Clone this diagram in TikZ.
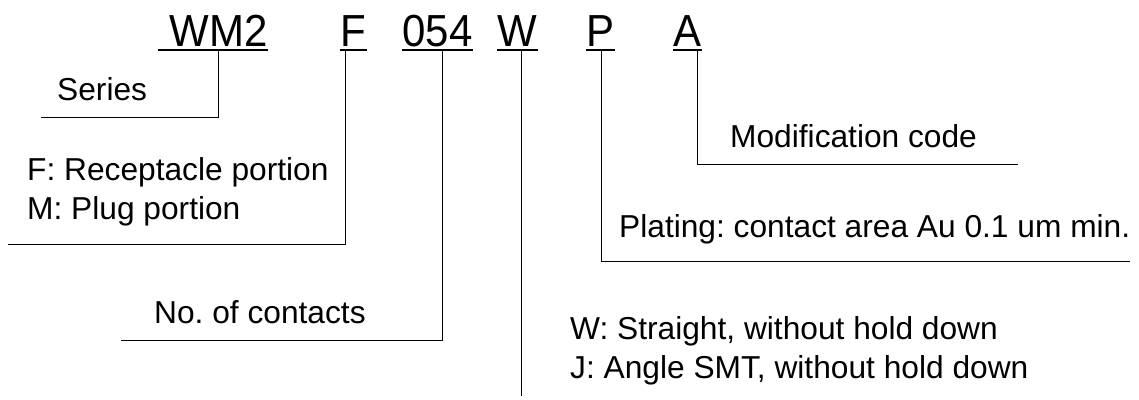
\documentclass[tikz,border=0pt]{standalone}
\usepackage{fontspec}
\setmainfont{Liberation Sans}
\frenchspacing
\newcommand{\tallcode}[1]{\scalebox{1}[1.07]{#1}}
\begin{document}
\begin{tikzpicture}[x=1pt, y=-1pt,
  code/.style={inner sep=0pt, text depth=3pt, anchor=south, font=\fontsize{42}{48}\selectfont},
  desc/.style={inner sep=0pt, anchor=base west, align=left, font=\fontsize{31.7}{38.5}\selectfont},
  uline/.style={line width=2.5pt},
  leader/.style={line width=1pt}]

  \useasboundingbox (0,0) rectangle (1139,399);

  \node[code] (wm) at (213,50) {\tallcode{\ WM2}};
  \node[code] (fm) at (353.5,50) {\tallcode{F}};
  \node[code] (nc) at (437.5,50) {\tallcode{054}};
  \node[code] (tw) at (517.5,50) {\tallcode{W}};
  \node[code] (pl) at (600.5,50) {\tallcode{P}};
  \node[code] (md) at (687.5,50) {\tallcode{A}};

  \draw[uline] (wm.south west) -- (wm.south east);
  \draw[uline] (fm.south west) -- (fm.south east);
  \draw[uline] (nc.south west) -- (nc.south east);
  \draw[uline] (tw.south west) -- (tw.south east);
  \draw[uline] (pl.south west) -- (pl.south east);
  \draw[uline] (md.south west) -- (md.south east);

  % two-line labels sit on the baseline of their last line
  \node[desc] (series) at (57,100) {Series};
  \node[desc] (portion) at (27,219) {F: Receptacle portion\\M: Plug portion};
  \node[desc] (contacts) at (154,323) {No. of contacts};
  \node[desc] (modif) at (730,147) {Modification code};
  \node[desc] (plating) at (619,237) {Plating: contact area Au 0.1 um min.};
  \node[desc] (hold) at (570,378) {W: Straight, without hold down\\J: Angle SMT, without hold down};

  \coordinate (wmK) at (218,117);
  \coordinate (wmE) at (41,117);
  \draw[leader] (wm.south -| wmK) -- (wmK) -- (wmE);

  \coordinate (fmK) at (345,244);
  \coordinate (fmE) at (8,244);
  \draw[leader] (fm.south -| fmK) -- (fmK) -- (fmE);

  \coordinate (ncK) at (442,340);
  \coordinate (ncE) at (121,340);
  \draw[leader] (nc.south -| ncK) -- (ncK) -- (ncE);

  \coordinate (twE) at (521,396);
  \draw[leader] (tw.south -| twE) -- (twE);

  \coordinate (plK) at (601,261);
  \coordinate (plE) at (1130,261);
  \draw[leader] (pl.south -| plK) -- (plK) -- (plE);

  \coordinate (mdK) at (697,164);
  \coordinate (mdE) at (1018,164);
  \draw[leader] (md.south -| mdK) -- (mdK) -- (mdE);

\end{tikzpicture}
\end{document}
